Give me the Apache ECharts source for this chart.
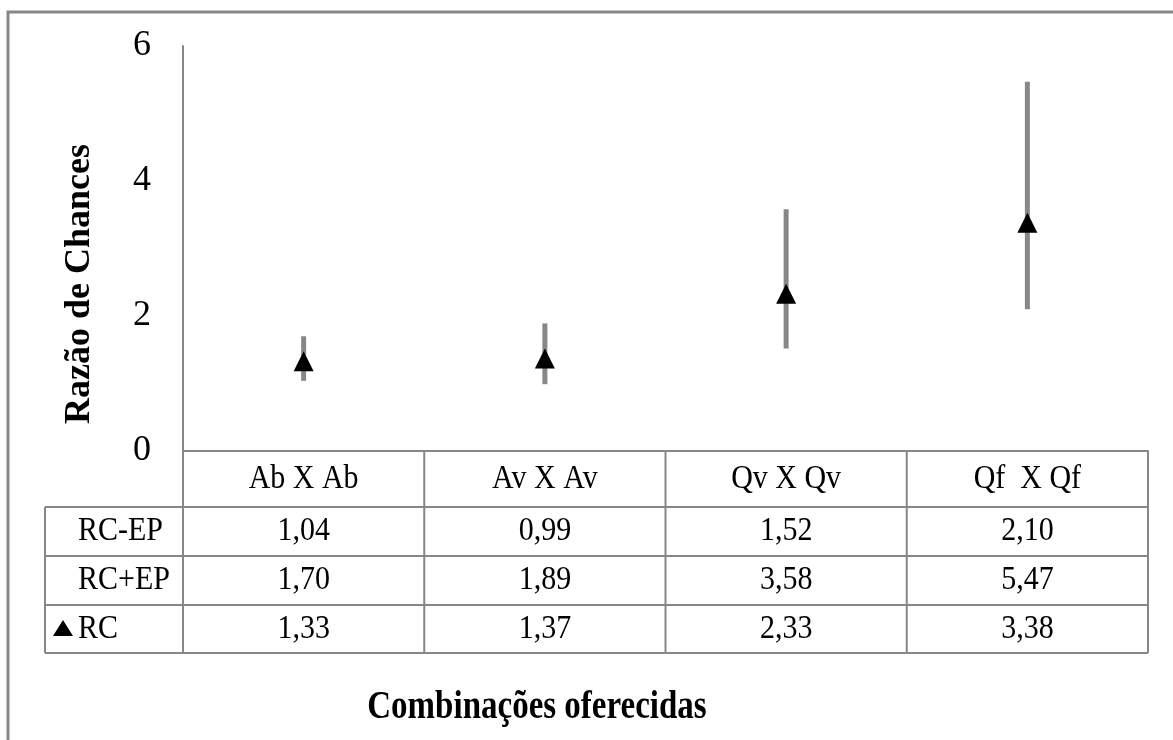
<!DOCTYPE html>
<html>
<head>
<meta charset="utf-8">
<script src="https://cdn.jsdelivr.net/npm/echarts@6/dist/echarts.min.js"></script>
<style>
html,body{margin:0;padding:0;background:#fff;}
#main{width:1173px;height:740px;}
</style>
</head>
<body>
<div id="main"></div>
<script>
// ---- data ----
const categories = ['Ab X Ab', 'Av X Av', 'Qv X Qv', 'Qf  X Qf'];
const rcLow  = [1.04, 0.99, 1.52, 2.10];   // RC-EP
const rcHigh = [1.70, 1.89, 3.58, 5.47];   // RC+EP
const rc     = [1.33, 1.37, 2.33, 3.38];   // RC
const rowLabels = ['RC-EP', 'RC+EP', 'RC'];
const yMin = 0, yMax = 6, yInterval = 2;
const yTitle = 'Razão de Chances';
const xTitle = 'Combinações oferecidas';

// ---- layout/style ----
const FONT = '"Liberation Serif", "Times New Roman", serif';
const GRAY = '#878787';
const gridLeft = 183, gridRight = 1148, gridTop = 46, gridBottomY = 451;
const tableLeft = 45;
const rowLines = [507, 556, 605, 653];

const chart = echarts.init(document.getElementById('main'), null, {renderer: 'canvas'});
const fmt = v => v.toFixed(2).replace('.', ',');

chart.setOption({
  backgroundColor: '#fff',
  animation: false,
  grid: {left: gridLeft, right: 1173 - gridRight, top: gridTop, bottom: 740 - gridBottomY, containLabel: false},
  xAxis: {
    type: 'category', data: categories, boundaryGap: true,
    axisLine: {show: true, lineStyle: {color: GRAY, width: 2}},
    axisTick: {show: false}, axisLabel: {show: false}, splitLine: {show: false}
  },
  yAxis: {
    type: 'value', min: yMin, max: yMax, interval: yInterval,
    axisLine: {show: true, lineStyle: {color: GRAY, width: 2}},
    axisTick: {show: false}, splitLine: {show: false},
    axisLabel: {color: '#000', fontFamily: FONT, fontSize: 36, margin: 32}
  },
  series: [
    {
      type: 'custom',
      name: 'EP',
      data: categories.map((c, i) => [i, rcLow[i], rcHigh[i]]),
      renderItem: function (params, api) {
        const p1 = api.coord([api.value(0), api.value(1)]);
        const p2 = api.coord([api.value(0), api.value(2)]);
        return {
          type: 'line',
          shape: {x1: p1[0], y1: p1[1], x2: p2[0], y2: p2[1]},
          style: {stroke: GRAY, lineWidth: 5}
        };
      },
      z: 2
    },
    {
      type: 'scatter',
      name: 'RC',
      data: rc,
      symbol: 'triangle',
      symbolSize: [20, 20],
      itemStyle: {color: '#000', opacity: 1},
      z: 3
    }
  ]
});

// ---- data table & titles (graphic) ----
const centers = categories.map((c, i) => chart.convertToPixel({xAxisIndex: 0}, i));
const colW = (gridRight - gridLeft) / categories.length;
const bounds = categories.map((c, i) => gridLeft + colW * i).concat([gridRight]);
const headerMid = (gridBottomY + rowLines[0]) / 2;
const rowMids = [0, 1, 2].map(r => (rowLines[r] + rowLines[r + 1]) / 2);
const rowValues = [rcLow, rcHigh, rc];

const g = [];
const line = (x1, y1, x2, y2) => g.push({type: 'line', shape: {x1, y1, x2, y2}, style: {stroke: GRAY, lineWidth: 2}, silent: true});
// outer border (partly outside the view)
g.push({type: 'rect', shape: {x: 8, y: 12, width: 1300, height: 900}, style: {fill: null, stroke: GRAY, lineWidth: 3}, silent: true});
// vertical lines
line(gridLeft, gridBottomY, gridLeft, rowLines[3]);
bounds.slice(1).forEach(x => line(x, gridBottomY, x, rowLines[3]));
line(tableLeft, rowLines[0], tableLeft, rowLines[3]);
// horizontal lines
rowLines.forEach(y => line(tableLeft, y, gridRight, y));

const txt = (text, x, y, opts) => g.push(Object.assign({
  type: 'text', x, y, silent: true, scaleY: 1.12,
  style: Object.assign({text, fill: '#000', font: '30px ' + FONT, align: 'center', verticalAlign: 'middle'}, opts || {})
}));
categories.forEach((c, i) => txt(c, centers[i], headerMid));
rowValues.forEach((vals, r) => vals.forEach((v, i) => txt(fmt(v), centers[i], rowMids[r])));
rowLabels.forEach((lab, r) => txt(lab, 78, rowMids[r], {align: 'left'}));
// legend key for RC row
g.push({type: 'polygon', shape: {points: [[63, rowMids[2] - 9], [73, rowMids[2] + 7], [53, rowMids[2] + 7]]}, style: {fill: '#000'}, silent: true});

// titles
g.push({type: 'text', x: 80, y: 284, rotation: Math.PI / 2, silent: true,
  style: {text: yTitle, fill: '#000', font: 'bold 36px ' + FONT, align: 'center', verticalAlign: 'middle'}});
g.push({type: 'text', x: 537, y: 708, scaleY: 1.2, silent: true,
  style: {text: xTitle, fill: '#000', font: 'bold 33px ' + FONT, align: 'center', verticalAlign: 'middle'}});

chart.setOption({graphic: {elements: g}});
</script>
</body>
</html>
